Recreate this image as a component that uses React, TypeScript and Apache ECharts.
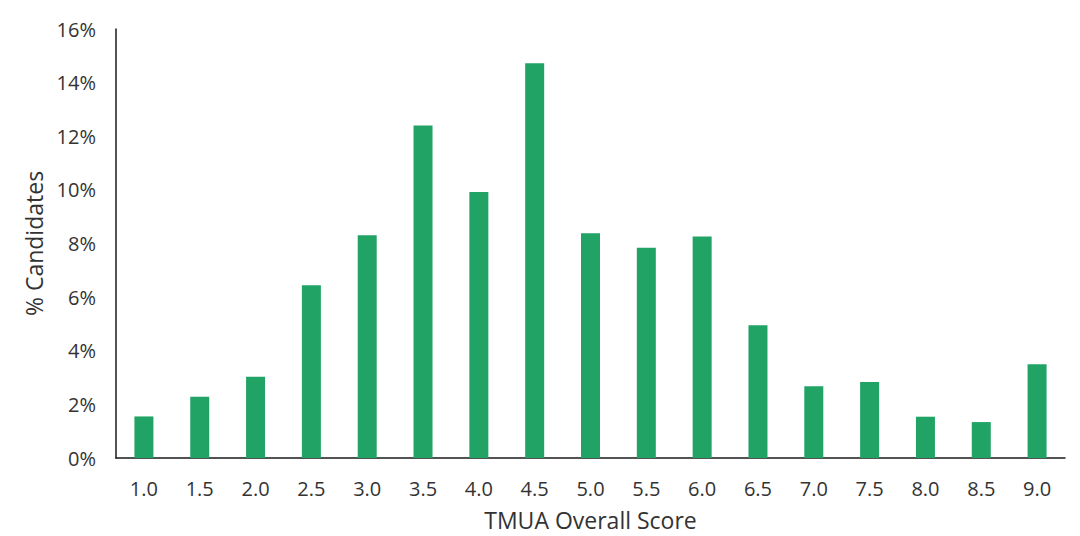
import React, { useEffect, useRef } from "react";
import * as echarts from "echarts";

const categories = ["1.0", "1.5", "2.0", "2.5", "3.0", "3.5", "4.0", "4.5", "5.0", "5.5", "6.0", "6.5", "7.0", "7.5", "8.0", "8.5", "9.0"];
const percentValues = [1.55, 2.28, 3.03, 6.44, 8.31, 12.4, 9.92, 14.72, 8.38, 7.84, 8.26, 4.95, 2.68, 2.83, 1.54, 1.34, 3.5];
const yTicks = { min: 0, max: 16, interval: 2 };

export default function App() {
  const ref = useRef<HTMLDivElement>(null);
  useEffect(() => {
    if (!ref.current) return;
    const chart = echarts.init(ref.current, null, { renderer: "svg" });
    const font = "'Open Sans', 'Noto Sans', sans-serif";
    chart.setOption({
      animation: false,
      backgroundColor: "#ffffff",
      grid: { left: 116, right: 15, top: 29, bottom: 77 },
      xAxis: {
        type: "category",
        data: categories,
        boundaryGap: true,
        name: "TMUA Overall Score",
        nameLocation: "middle",
        nameGap: 50,
        nameTextStyle: { fontFamily: font, fontSize: 23, color: "#333333" },
        axisLine: { lineStyle: { color: "#1a1a1a", width: 1.5 } },
        axisTick: { show: false },
        axisLabel: { margin: 20, fontFamily: font, fontSize: 20, color: "#333333" },
        splitLine: { show: false },
      },
      yAxis: {
        type: "value",
        min: yTicks.min,
        max: yTicks.max,
        interval: yTicks.interval,
        name: "% Candidates",
        nameLocation: "middle",
        nameGap: 66,
        nameTextStyle: { fontFamily: font, fontSize: 23, color: "#333333" },
        axisLine: { show: true, lineStyle: { color: "#1a1a1a", width: 1.5 } },
        axisTick: { show: false },
        axisLabel: { margin: 20, fontFamily: font, fontSize: 20, color: "#333333", formatter: "{value}%" },
        splitLine: { show: false },
      },
      series: [
        {
          type: "bar",
          data: percentValues,
          barWidth: 19,
          itemStyle: { color: "#21A366" },
        },
      ],
    });
    return () => chart.dispose();
  }, []);
  return <div ref={ref} style={{ position: "fixed", left: 0, top: 0, width: 1080, height: 536 }} />;
}
